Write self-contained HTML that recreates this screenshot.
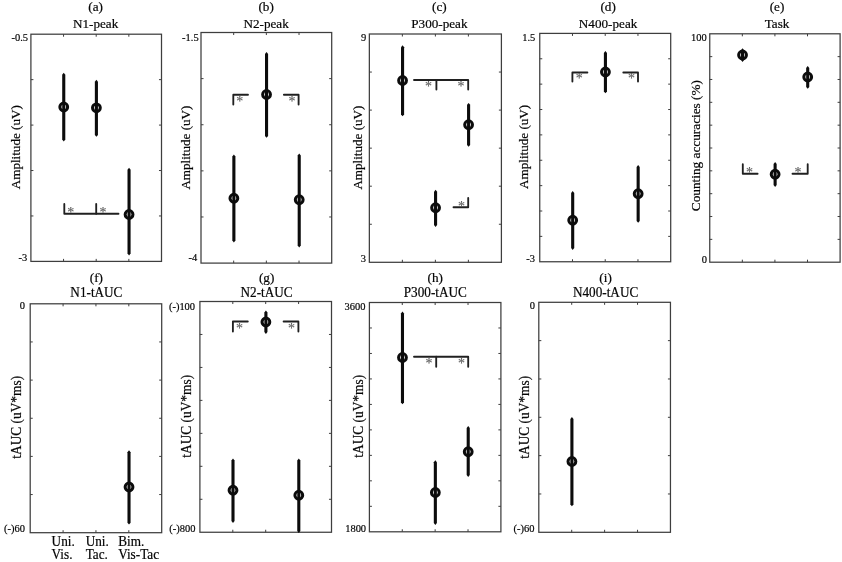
<!DOCTYPE html>
<html lang="en"><head><meta charset="utf-8"><title>ERP peak and tAUC statistics</title>
<style>
html,body{margin:0;padding:0;background:#fff;}
body{width:842px;height:562px;overflow:hidden;}
svg{display:block;will-change:transform;filter:blur(0.3px);}
text{font-family:"Liberation Serif","DejaVu Serif",serif;fill:#050505;stroke:#050505;stroke-width:0.2px;}
.t{font-size:13.9px;text-anchor:middle;}
.u{font-size:13.5px;text-anchor:middle;}
.l{font-size:13.2px;text-anchor:middle;}
.y{font-size:12.4px;text-anchor:middle;}
.x{font-size:13.9px;text-anchor:start;}
.k{font-size:11.4px;text-anchor:end;}
.s{font-size:14px;text-anchor:middle;fill:#5c5c5c;stroke:#5c5c5c;stroke-width:0.15px;}
.fr{fill:none;stroke:#3e3e3e;stroke-width:1.25;}
.tk{fill:none;stroke:#3e3e3e;stroke-width:1;}
.eb{fill:#0c0c0c;stroke:none;}
.mk{fill:none;stroke:#0c0c0c;stroke-width:3.0;}
.br{fill:none;stroke:#202020;stroke-width:1.85;stroke-linejoin:round;stroke-linecap:round;}
</style></head><body>
<svg width="842" height="562" viewBox="0 0 842 562">
<rect x="0" y="0" width="842" height="562" fill="#ffffff"/>
<g id="panel-a">
<rect class="fr" x="30.9" y="34.2" width="130.6" height="227.2"/>
<path class="tk" d="M63.55 34.2v2.52M63.55 261.4v-2.52M96.2 34.2v2.52M96.2 261.4v-2.52M128.85 34.2v2.52M128.85 261.4v-2.52M30.9 79.64h2.52M161.5 79.64h-2.52M30.9 125.08h2.52M161.5 125.08h-2.52M30.9 170.52h2.52M161.5 170.52h-2.52M30.9 215.96h2.52M161.5 215.96h-2.52"/>
<path class="eb" d="M62.2 74.65L63.75 72.75L65.3 74.65V139.6L63.75 141.5L62.2 139.6Z"/>
<circle class="mk" cx="63.75" cy="107" r="3.9"/>
<path class="eb" d="M94.85 81.65L96.4 79.75L97.95 81.65V134.9L96.4 136.8L94.85 134.9Z"/>
<circle class="mk" cx="96.4" cy="107.8" r="3.9"/>
<path class="eb" d="M127.5 169.65L129.05 167.75L130.6 169.65V253.5L129.05 255.4L127.5 253.5Z"/>
<circle class="mk" cx="129.05" cy="214.5" r="3.9"/>
</g>
<g id="panel-b">
<rect class="fr" x="201" y="32.5" width="130.7" height="230.6"/>
<path class="tk" d="M233.68 32.5v2.52M233.68 263.1v-2.52M266.35 32.5v2.52M266.35 263.1v-2.52M299.02 32.5v2.52M299.02 263.1v-2.52M201 78.62h2.52M331.7 78.62h-2.52M201 124.74h2.52M331.7 124.74h-2.52M201 170.86h2.52M331.7 170.86h-2.52M201 216.98h2.52M331.7 216.98h-2.52"/>
<path class="eb" d="M232.32 156.4L233.88 154.5L235.43 156.4V240.6L233.88 242.5L232.32 240.6Z"/>
<circle class="mk" cx="233.88" cy="198.25" r="3.9"/>
<path class="eb" d="M265 53.9L266.55 52L268.1 53.9V135.9L266.55 137.8L265 135.9Z"/>
<circle class="mk" cx="266.55" cy="94.5" r="3.9"/>
<path class="eb" d="M297.67 155.4L299.22 153.5L300.77 155.4V245.6L299.22 247.5L297.67 245.6Z"/>
<circle class="mk" cx="299.22" cy="199.75" r="3.9"/>
</g>
<g id="panel-c">
<rect class="fr" x="369.35" y="34" width="132.05" height="228.3"/>
<path class="tk" d="M402.36 34v2.52M402.36 262.3v-2.52M435.38 34v2.52M435.38 262.3v-2.52M468.39 34v2.52M468.39 262.3v-2.52M369.35 72.05h2.52M501.4 72.05h-2.52M369.35 110.1h2.52M501.4 110.1h-2.52M369.35 148.15h2.52M501.4 148.15h-2.52M369.35 186.2h2.52M501.4 186.2h-2.52M369.35 224.25h2.52M501.4 224.25h-2.52"/>
<path class="eb" d="M401.01 47.15L402.56 45.25L404.11 47.15V114.4L402.56 116.3L401.01 114.4Z"/>
<circle class="mk" cx="402.56" cy="80.5" r="3.9"/>
<path class="eb" d="M434.02 191.65L435.57 189.75L437.12 191.65V225.1L435.57 227L434.02 225.1Z"/>
<circle class="mk" cx="435.57" cy="207.75" r="3.9"/>
<path class="eb" d="M467.04 104.8L468.59 102.9L470.14 104.8V144.9L468.59 146.8L467.04 144.9Z"/>
<circle class="mk" cx="468.59" cy="124.7" r="3.9"/>
</g>
<g id="panel-d">
<rect class="fr" x="539.75" y="33.4" width="130.95" height="228.35"/>
<path class="tk" d="M572.49 33.4v2.52M572.49 261.75v-2.52M605.23 33.4v2.52M605.23 261.75v-2.52M637.96 33.4v2.52M637.96 261.75v-2.52M539.75 58.77h2.52M670.7 58.77h-2.52M539.75 84.14h2.52M670.7 84.14h-2.52M539.75 109.52h2.52M670.7 109.52h-2.52M539.75 134.89h2.52M670.7 134.89h-2.52M539.75 160.26h2.52M670.7 160.26h-2.52M539.75 185.63h2.52M670.7 185.63h-2.52M539.75 211.01h2.52M670.7 211.01h-2.52M539.75 236.38h2.52M670.7 236.38h-2.52"/>
<path class="eb" d="M571.14 192.9L572.69 191L574.24 192.9V248.1L572.69 250L571.14 248.1Z"/>
<circle class="mk" cx="572.69" cy="220.25" r="3.9"/>
<path class="eb" d="M603.88 52.9L605.43 51L606.98 52.9V91.4L605.43 93.3L603.88 91.4Z"/>
<circle class="mk" cx="605.43" cy="72" r="3.9"/>
<path class="eb" d="M636.61 166.9L638.16 165L639.71 166.9V220.9L638.16 222.8L636.61 220.9Z"/>
<circle class="mk" cx="638.16" cy="193.75" r="3.9"/>
</g>
<g id="panel-e">
<rect class="fr" x="709.75" y="33.8" width="130.35" height="228.4"/>
<path class="tk" d="M742.34 33.8v2.52M742.34 262.2v-2.52M774.92 33.8v2.52M774.92 262.2v-2.52M807.51 33.8v2.52M807.51 262.2v-2.52M709.75 56.64h2.52M840.1 56.64h-2.52M709.75 79.48h2.52M840.1 79.48h-2.52M709.75 102.32h2.52M840.1 102.32h-2.52M709.75 125.16h2.52M840.1 125.16h-2.52M709.75 148h2.52M840.1 148h-2.52M709.75 170.84h2.52M840.1 170.84h-2.52M709.75 193.68h2.52M840.1 193.68h-2.52M709.75 216.52h2.52M840.1 216.52h-2.52M709.75 239.36h2.52M840.1 239.36h-2.52"/>
<path class="eb" d="M740.99 50.15L742.54 48.25L744.09 50.15V60L742.54 61.9L740.99 60Z"/>
<circle class="mk" cx="742.54" cy="55" r="3.9"/>
<path class="eb" d="M773.58 163.9L775.12 162L776.67 163.9V185.1L775.12 187L773.58 185.1Z"/>
<circle class="mk" cx="775.12" cy="174.25" r="3.9"/>
<path class="eb" d="M806.16 67.9L807.71 66L809.26 67.9V86.9L807.71 88.8L806.16 86.9Z"/>
<circle class="mk" cx="807.71" cy="77" r="3.9"/>
</g>
<g id="panel-f">
<rect class="fr" x="30.2" y="303.8" width="131.5" height="228.9"/>
<path class="tk" d="M63.08 303.8v2.52M63.08 532.7v-2.52M95.95 303.8v2.52M95.95 532.7v-2.52M128.82 303.8v2.52M128.82 532.7v-2.52M30.2 341.95h2.52M161.7 341.95h-2.52M30.2 380.1h2.52M161.7 380.1h-2.52M30.2 418.25h2.52M161.7 418.25h-2.52M30.2 456.4h2.52M161.7 456.4h-2.52M30.2 494.55h2.52M161.7 494.55h-2.52"/>
<path class="eb" d="M127.47 452.15L129.02 450.25L130.57 452.15V522.7L129.02 524.6L127.47 522.7Z"/>
<circle class="mk" cx="129.02" cy="487" r="3.9"/>
</g>
<g id="panel-g">
<rect class="fr" x="199.9" y="301.5" width="131.6" height="230.75"/>
<path class="tk" d="M232.8 301.5v2.52M232.8 532.25v-2.52M265.7 301.5v2.52M265.7 532.25v-2.52M298.6 301.5v2.52M298.6 532.25v-2.52M199.9 334.46h2.52M331.5 334.46h-2.52M199.9 367.43h2.52M331.5 367.43h-2.52M199.9 400.39h2.52M331.5 400.39h-2.52M199.9 433.36h2.52M331.5 433.36h-2.52M199.9 466.32h2.52M331.5 466.32h-2.52M199.9 499.29h2.52M331.5 499.29h-2.52"/>
<path class="eb" d="M231.45 460.4L233 458.5L234.55 460.4V521.1L233 523L231.45 521.1Z"/>
<circle class="mk" cx="233" cy="490.25" r="3.9"/>
<path class="eb" d="M264.35 312.5L265.9 310.6L267.45 312.5V332L265.9 333.9L264.35 332Z"/>
<circle class="mk" cx="265.9" cy="322" r="3.9"/>
<path class="eb" d="M297.25 460.4L298.8 458.5L300.35 460.4V531L298.8 532.9L297.25 531Z"/>
<circle class="mk" cx="298.8" cy="495.25" r="3.9"/>
</g>
<g id="panel-h">
<rect class="fr" x="369.4" y="302.5" width="131.5" height="229.3"/>
<path class="tk" d="M402.27 302.5v2.52M402.27 531.8v-2.52M435.15 302.5v2.52M435.15 531.8v-2.52M468.02 302.5v2.52M468.02 531.8v-2.52M369.4 327.98h2.52M500.9 327.98h-2.52M369.4 353.46h2.52M500.9 353.46h-2.52M369.4 378.93h2.52M500.9 378.93h-2.52M369.4 404.41h2.52M500.9 404.41h-2.52M369.4 429.89h2.52M500.9 429.89h-2.52M369.4 455.37h2.52M500.9 455.37h-2.52M369.4 480.84h2.52M500.9 480.84h-2.52M369.4 506.32h2.52M500.9 506.32h-2.52"/>
<path class="eb" d="M400.92 313.4L402.47 311.5L404.02 313.4V402.4L402.47 404.3L400.92 402.4Z"/>
<circle class="mk" cx="402.47" cy="357.5" r="3.9"/>
<path class="eb" d="M433.8 462.15L435.35 460.25L436.9 462.15V523.1L435.35 525L433.8 523.1Z"/>
<circle class="mk" cx="435.35" cy="492.5" r="3.9"/>
<path class="eb" d="M466.67 427.9L468.22 426L469.77 427.9V475.1L468.22 477L466.67 475.1Z"/>
<circle class="mk" cx="468.22" cy="451.75" r="3.9"/>
</g>
<g id="panel-i">
<rect class="fr" x="538.8" y="302.3" width="131.65" height="230"/>
<path class="tk" d="M571.71 302.3v2.52M571.71 532.3v-2.52M604.62 302.3v2.52M604.62 532.3v-2.52M637.54 302.3v2.52M637.54 532.3v-2.52M538.8 340.63h2.52M670.45 340.63h-2.52M538.8 378.97h2.52M670.45 378.97h-2.52M538.8 417.3h2.52M670.45 417.3h-2.52M538.8 455.63h2.52M670.45 455.63h-2.52M538.8 493.97h2.52M670.45 493.97h-2.52"/>
<path class="eb" d="M570.36 418.9L571.91 417L573.46 418.9V504.4L571.91 506.3L570.36 504.4Z"/>
<circle class="mk" cx="571.91" cy="461.5" r="3.9"/>
</g>
<g id="significance">
<polyline class="br" points="64.3,204 64.3,213.7 118.5,213.7"/>
<polyline class="br" points="96.2,204 96.2,213.7"/>
<polyline class="br" points="233.3,104.5 233.3,94.75 248,94.75"/>
<polyline class="br" points="283.9,94.75 298.6,94.75 298.6,104.5"/>
<polyline class="br" points="414,80 468.2,80 468.2,89.5"/>
<polyline class="br" points="436.4,80 436.4,89.5"/>
<polyline class="br" points="453.5,207.25 468.2,207.25 468.2,198"/>
<polyline class="br" points="572.4,81.5 572.4,72.5 587.4,72.5"/>
<polyline class="br" points="623.3,72.5 638,72.5 638,81.5"/>
<polyline class="br" points="742.8,164.25 742.8,173.75 757.6,173.75"/>
<polyline class="br" points="792.5,173.75 807.7,173.75 807.7,164.25"/>
<polyline class="br" points="232.9,331.5 232.9,321.5 247.8,321.5"/>
<polyline class="br" points="283.6,321.5 298.4,321.5 298.4,331.5"/>
<polyline class="br" points="414,356.75 468.2,356.75 468.2,366.75"/>
<polyline class="br" points="436.2,356.75 436.2,366.75"/>
<text class="s" x="70.8" y="216.75">*</text>
<text class="s" x="103" y="216.75">*</text>
<text class="s" x="239.8" y="105.6">*</text>
<text class="s" x="292" y="105.6">*</text>
<text class="s" x="428.6" y="91.3">*</text>
<text class="s" x="461.1" y="91.3">*</text>
<text class="s" x="461.5" y="210.6">*</text>
<text class="s" x="579.2" y="83.3">*</text>
<text class="s" x="631.6" y="83.3">*</text>
<text class="s" x="749.4" y="177">*</text>
<text class="s" x="798.1" y="177">*</text>
<text class="s" x="239.4" y="332.6">*</text>
<text class="s" x="291.6" y="332.6">*</text>
<text class="s" x="429" y="368">*</text>
<text class="s" x="461.5" y="368">*</text>
</g>
<g id="titles">
<text class="l" x="95.6" y="11.3">(a)</text>
<text class="u" transform="translate(95.6 27.8) scale(0.975 1)">N1-peak</text>
<text class="l" x="266.1" y="11.3">(b)</text>
<text class="u" transform="translate(266.1 27.8) scale(0.975 1)">N2-peak</text>
<text class="l" x="439.4" y="11.3">(c)</text>
<text class="u" transform="translate(439.4 27.8) scale(0.975 1)">P300-peak</text>
<text class="l" x="608.1" y="11.3">(d)</text>
<text class="u" transform="translate(608.1 27.8) scale(0.975 1)">N400-peak</text>
<text class="l" x="777" y="11.3">(e)</text>
<text class="u" transform="translate(777 27.8) scale(0.975 1)">Task</text>
<text class="l" x="96.4" y="281.8">(f)</text>
<text class="t" transform="translate(96.4 297.1) scale(0.95 1)">N1-tAUC</text>
<text class="l" x="266.6" y="281.8">(g)</text>
<text class="t" transform="translate(266.6 297.1) scale(0.95 1)">N2-tAUC</text>
<text class="l" x="435.3" y="281.8">(h)</text>
<text class="t" transform="translate(435.3 297.1) scale(0.95 1)">P300-tAUC</text>
<text class="l" x="605.6" y="281.8">(i)</text>
<text class="t" transform="translate(605.6 297.1) scale(0.95 1)">N400-tAUC</text>
</g>
<g id="ticklabels">
<text class="k" transform="translate(28 41) scale(0.92 1)">-0.5</text>
<text class="k" transform="translate(27.3 261.4) scale(0.92 1)">-3</text>
<text class="k" transform="translate(198.7 41) scale(0.92 1)">-1.5</text>
<text class="k" transform="translate(197.3 261.4) scale(0.92 1)">-4</text>
<text class="k" transform="translate(366.3 41.3) scale(0.92 1)">9</text>
<text class="k" transform="translate(366 261.5) scale(0.92 1)">3</text>
<text class="k" transform="translate(535.3 41) scale(0.92 1)">1.5</text>
<text class="k" transform="translate(535 261.6) scale(0.92 1)">-3</text>
<text class="k" transform="translate(706.8 41) scale(0.92 1)">100</text>
<text class="k" transform="translate(707 262.7) scale(0.92 1)">0</text>
<text class="k" transform="translate(25 309.2) scale(0.92 1)">0</text>
<text class="k" transform="translate(25 531.9) scale(0.92 1)">(-)60</text>
<text class="k" transform="translate(195.1 310) scale(0.92 1)">(-)100</text>
<text class="k" transform="translate(195.5 532.2) scale(0.92 1)">(-)800</text>
<text class="k" transform="translate(365.5 310) scale(0.92 1)">3600</text>
<text class="k" transform="translate(366.1 532.3) scale(0.92 1)">1800</text>
<text class="k" transform="translate(535 309) scale(0.92 1)">0</text>
<text class="k" transform="translate(534.5 531.9) scale(0.92 1)">(-)60</text>
</g>
<g id="ylabels">
<text class="y" style="font-size:13.1px" transform="translate(20 147.25) rotate(-90) scale(1.0 1)">Amplitude (uV)</text>
<text class="y" style="font-size:13.1px" transform="translate(189.9 147.6) rotate(-90) scale(1.0 1)">Amplitude (uV)</text>
<text class="y" style="font-size:13.1px" transform="translate(361.9 147.6) rotate(-90) scale(1.0 1)">Amplitude (uV)</text>
<text class="y" style="font-size:13.1px" transform="translate(527.5 146.9) rotate(-90) scale(1.0 1)">Amplitude (uV)</text>
<text class="y" style="font-size:13.5px" transform="translate(700.4 145.6) rotate(-90) scale(0.985 1)">Counting accuracies (%)</text>
<text class="y" style="font-size:13.7px" transform="translate(21 417.3) rotate(-90) scale(0.977 1)">tAUC (uV*ms)</text>
<text class="y" style="font-size:13.7px" transform="translate(191 416.3) rotate(-90) scale(0.977 1)">tAUC (uV*ms)</text>
<text class="y" style="font-size:13.7px" transform="translate(362.6 416.3) rotate(-90) scale(0.977 1)">tAUC (uV*ms)</text>
<text class="y" style="font-size:13.7px" transform="translate(528.5 417.3) rotate(-90) scale(0.977 1)">tAUC (uV*ms)</text>
</g>
<g id="xlabels">
<text class="x" transform="translate(51.6 545.5) scale(0.95 1)">Uni.</text>
<text class="x" transform="translate(51.6 558.5) scale(0.95 1)">Vis.</text>
<text class="x" transform="translate(85.7 545.5) scale(0.95 1)">Uni.</text>
<text class="x" transform="translate(85.7 558.5) scale(0.95 1)">Tac.</text>
<text class="x" transform="translate(118.2 545.5) scale(0.95 1)">Bim.</text>
<text class="x" transform="translate(118.2 558.5) scale(0.95 1)">Vis-Tac</text>
</g>
</svg>
</body></html>
